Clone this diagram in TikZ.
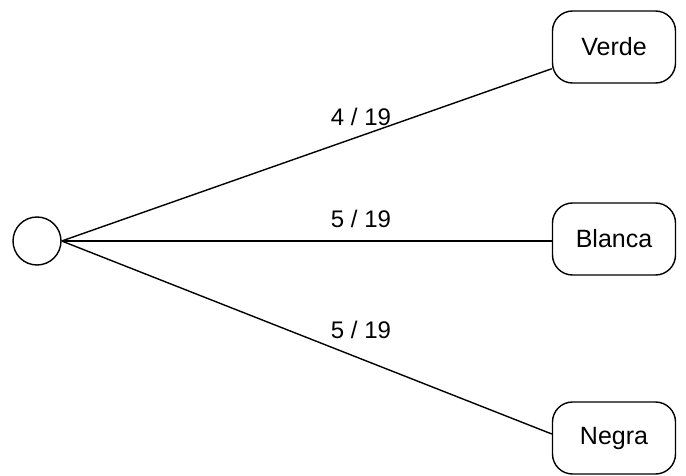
\documentclass[tikz,border=0pt]{standalone}
\usepackage{fontspec}
\setmainfont{Liberation Sans}
\begin{document}
\begin{tikzpicture}[x=1pt,y=-1pt,
  leaf/.style={draw,line width=1.4pt,rounded corners=20pt,minimum width=123pt,minimum height=72pt,font=\fontsize{25}{29}\selectfont,inner sep=0pt},
  root/.style={draw,circle,line width=1.4pt,minimum size=48pt,inner sep=0pt},
  edge/.style={line width=1.4pt},
  lab/.style={font=\fontsize{24}{28}\selectfont,inner sep=0pt}]
\useasboundingbox (0,0) rectangle (686,476);
\node[root] (r) at (37,241) {};
\node[leaf] (v) at (614,47) {Verde};
\node[leaf] (b) at (614,239) {Blanca};
\node[leaf] (n) at (614,438) {Negra};
\draw[edge] (r.east) -- (v);
\draw[edge] (r.east) -- (b.west |- r.east);
\draw[edge] (r.east) -- ([yshift=4pt]n.west);
\node[lab] (l1) at (361,117) {4 / 19};
\node[lab] (l2) at (361,219) {5 / 19};
\node[lab] (l3) at (361,330) {5 / 19};
\end{tikzpicture}
\end{document}
